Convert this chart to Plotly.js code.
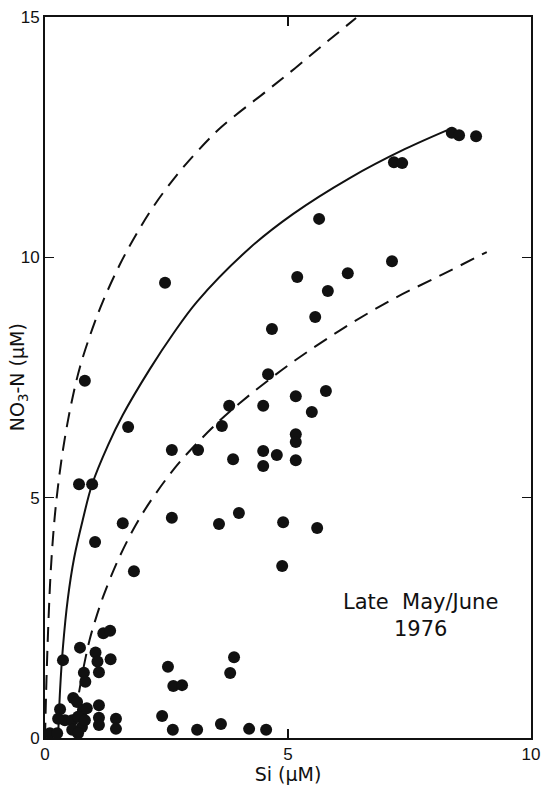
<!DOCTYPE html>
<html>
<head>
<meta charset="utf-8">
<script src="https://cdn.plot.ly/plotly-3.0.1.min.js"></script>
<style>
  html, body { margin: 0; padding: 0; background: #ffffff; }
  #chart { width: 541px; height: 785px; }
</style>
</head>
<body>
<div id="chart"></div>
<script>
// Observed silicate and nitrate concentrations (µM), late May/June 1976
const siValues = [
  2.47, 0.82, 1.71, 0.70, 0.97, 1.03, 1.60, 1.83, 2.61, 3.15,
  2.61, 3.79, 3.64, 4.67, 4.59, 4.49, 3.87, 4.49, 4.77, 4.49,
  5.16, 5.16, 5.16, 5.49, 5.16, 5.78, 4.90, 5.60, 4.88, 3.99,
  3.58, 5.19, 5.82, 6.23, 7.14, 5.64, 5.56, 7.18, 7.35, 8.37,
  8.52, 8.87,
  0.37, 0.72, 1.04, 1.08, 1.35, 1.11, 0.80, 0.83, 1.20, 1.34,
  2.53, 2.64, 2.82, 3.89, 3.81, 2.41, 2.63, 3.13, 3.62, 4.20,
  4.55, 1.11, 1.11, 1.11, 1.46, 1.46, 0.58, 0.66, 0.78, 0.31,
  0.41, 0.27, 0.56, 0.68, 0.76, 0.56, 0.68, 0.86, 0.82, 0.10,
  0.25
];
const no3Values = [
  9.47, 7.43, 6.47, 5.28, 5.28, 4.08, 4.47, 3.47, 5.99, 5.99,
  4.58, 6.91, 6.49, 8.51, 7.57, 6.91, 5.80, 5.97, 5.89, 5.66,
  5.78, 6.32, 6.16, 6.78, 7.11, 7.22, 4.49, 4.37, 3.58, 4.68,
  4.45, 9.59, 9.30, 9.67, 9.92, 10.80, 8.76, 11.98, 11.96, 12.59,
  12.54, 12.52,
  1.62, 1.88, 1.78, 1.59, 1.64, 1.37, 1.36, 1.17, 2.18, 2.23,
  1.48, 1.08, 1.10, 1.68, 1.35, 0.46, 0.17, 0.17, 0.29, 0.19,
  0.17, 0.68, 0.42, 0.27, 0.40, 0.19, 0.83, 0.75, 0.58, 0.60,
  0.37, 0.40, 0.37, 0.44, 0.23, 0.17, 0.10, 0.62, 0.37, 0.10,
  0.10
];

// Fitted relation (solid) and its envelope (dashed)
const fitSi = [0.27, 0.31, 0.37, 0.47, 0.60, 0.78, 0.97, 1.30, 1.60, 2.16, 2.63, 3.13, 4.22, 5.10, 6.27, 7.40, 8.40];
const fitN  = [0.02, 1.00, 1.90, 2.90, 3.75, 4.55, 5.28, 6.10, 6.72, 7.68, 8.40, 9.08, 10.20, 10.90, 11.65, 12.25, 12.70];

const upperSi = [0.00, 0.03, 0.07, 0.12, 0.20, 0.30, 0.41, 0.55, 0.72, 0.97, 1.19, 1.54, 1.89, 2.26, 2.72, 3.13, 3.64, 4.56, 5.14, 5.70, 6.40];
const upperN  = [0.00, 1.20, 2.40, 3.50, 4.60, 5.50, 6.25, 7.00, 7.72, 8.50, 9.08, 9.85, 10.50, 11.10, 11.72, 12.20, 12.72, 13.46, 13.93, 14.40, 14.98];

const lowerSi = [0.70, 0.80, 0.92, 1.05, 1.20, 1.48, 1.85, 2.22, 2.78, 3.54, 4.01, 5.00, 6.07, 7.14, 8.19, 9.09];
const lowerN  = [0.95, 1.50, 2.05, 2.50, 2.95, 3.65, 4.40, 5.00, 5.75, 6.55, 6.97, 7.75, 8.48, 9.12, 9.65, 10.11];

const xTicks = [0, 5, 10];
const yTicks = [0, 5, 10, 15];

const ink = '#111111';
const tickFamily = '"Liberation Sans", Arial, sans-serif';
const labelFamily = '"DejaVu Sans", "Liberation Sans", sans-serif';

const traces = [
  {
    x: upperSi, y: upperN, type: 'scatter', mode: 'lines',
    line: { color: ink, width: 2, dash: '15px,9px', shape: 'spline', smoothing: 1 },
    hoverinfo: 'skip'
  },
  {
    x: fitSi, y: fitN, type: 'scatter', mode: 'lines',
    line: { color: ink, width: 2, shape: 'spline', smoothing: 1 },
    hoverinfo: 'skip'
  },
  {
    x: lowerSi, y: lowerN, type: 'scatter', mode: 'lines',
    line: { color: ink, width: 2, dash: '15px,9px', shape: 'spline', smoothing: 1 },
    hoverinfo: 'skip'
  },
  {
    x: siValues, y: no3Values, type: 'scatter', mode: 'markers',
    marker: { color: ink, size: 12, line: { width: 0 } }
  }
];

const axisCommon = {
  showgrid: false,
  zeroline: false,
  showline: true,
  linecolor: ink,
  linewidth: 2,
  mirror: 'ticks',
  ticks: 'inside',
  ticklen: 9,
  tickwidth: 1.5,
  tickcolor: ink,
  tickfont: { family: tickFamily, size: 17, color: ink }
};

const layout = {
  width: 541,
  height: 785,
  margin: { l: 45, r: 10, t: 17, b: 47 },
  paper_bgcolor: '#ffffff',
  plot_bgcolor: '#ffffff',
  showlegend: false,
  font: { family: labelFamily, color: ink },
  xaxis: Object.assign({}, axisCommon, {
    range: [0, 10],
    tickvals: xTicks,
    ticktext: xTicks.map(String),
    title: { text: 'Si (µM)', font: { family: labelFamily, size: 19, color: ink }, standoff: 0 }
  }),
  yaxis: Object.assign({}, axisCommon, {
    range: [0, 15],
    tickvals: yTicks,
    ticktext: yTicks.map(String)
  }),
  annotations: [
    {
      // vertical axis label, set close to the frame
      x: -0.054, y: 0.5, xref: 'paper', yref: 'paper',
      xanchor: 'center', yanchor: 'middle',
      text: 'NO<sub>3</sub>-N (µM)',
      textangle: -90,
      showarrow: false,
      font: { family: labelFamily, size: 19, color: ink }
    },
    {
      x: 7.72, y: 2.54, xref: 'x', yref: 'y',
      text: 'Late  May/June<br>1976',
      showarrow: false,
      align: 'center',
      font: { family: labelFamily, size: 21, color: ink }
    }
  ]
};

Plotly.newPlot('chart', traces, layout, { displayModeBar: false, staticPlot: true });
</script>
</body>
</html>
